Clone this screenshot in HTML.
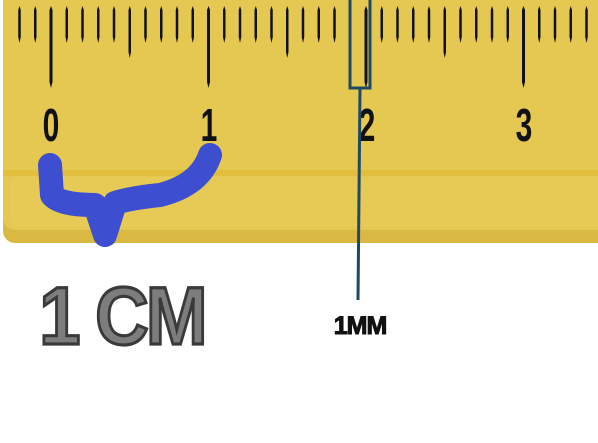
<!DOCTYPE html>
<html><head><meta charset="utf-8"><style>
html,body{margin:0;padding:0;background:#fff;width:598px;height:443px;overflow:hidden}
</style></head><body>
<svg width="598" height="443" viewBox="0 0 598 443">
  <g>
    <rect x="3" y="-20" width="620" height="263" rx="12" fill="#d9b941"/>
    <rect x="3" y="-20" width="620" height="250" rx="12" fill="#e5c852"/>
    <rect x="3" y="170" width="620" height="6" fill="#e3bd3c"/>
    <rect x="10" y="177" width="620" height="50" rx="8" fill="#e6ca55"/>
  </g>
  <g id="ticks"></g>
  <g font-family="'Liberation Sans',sans-serif" font-weight="bold" font-size="40" fill="#111" text-anchor="middle">
    <text transform="translate(51,141) scale(0.75,1.15)">0</text>
    <text transform="translate(209,141) scale(0.75,1.15)">1</text>
    <text transform="translate(367,141) scale(0.75,1.15)">2</text>
    <text transform="translate(524,141) scale(0.75,1.15)">3</text>
  </g>
  <path d="M50 165 L52 195 Q60 205 95 205 L105 235 L115 203 Q130 198 160 195 Q200 185 210 155" fill="none" stroke="#3d4fd0" stroke-width="24" stroke-linecap="round" stroke-linejoin="round"/>
  <path d="M350 0 L350 88 L370 88 L370 0 M360 88 L358 300" fill="none" stroke="#1f4a66" stroke-width="3"/>
  <text transform="translate(122,344) scale(0.95,1.05)" font-family="'Liberation Sans',sans-serif" font-weight="bold" font-size="78" fill="#7d7d7d" stroke="#3a3a3a" stroke-width="3" text-anchor="middle" letter-spacing="-3">1 CM</text>
  <text x="360" y="334" font-family="'Liberation Sans',sans-serif" font-weight="bold" font-size="25" fill="#111" stroke="#111" stroke-width="1" text-anchor="middle" letter-spacing="-1">1MM</text>
</svg>
<script>
const tickIndices = [];
for (let i = -3; i <= 35; i++) tickIndices.push(i);
const g = document.getElementById('ticks');
const x0 = 51, mm = 15.75;
tickIndices.forEach(i => {
  const x = x0 + i * mm;
  if (x < 8 || x > 598) return;
  const len = i % 10 === 0 ? 82 : (i % 5 === 0 ? 52 : 37);
  const w = i % 10 === 0 ? 3 : 2.5;
  const p = document.createElementNS('http://www.w3.org/2000/svg', 'path');
  p.setAttribute('d', `M${x} 6 L${x + w/2} 10 L${x + w/2} ${6 + len - 6} L${x} ${6 + len} L${x - w/2} ${6 + len - 6} L${x - w/2} 10 Z`);
  p.setAttribute('fill', '#111');
  
  
  g.appendChild(p);
});
</script>
</body></html>
